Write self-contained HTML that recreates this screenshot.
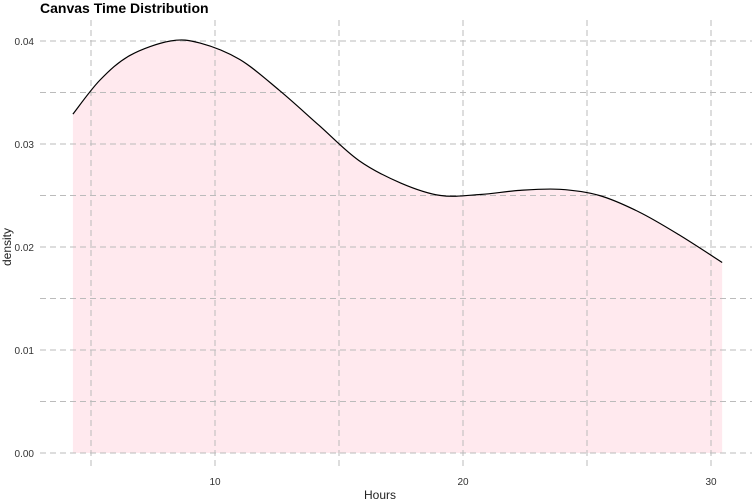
<!DOCTYPE html>
<html><head><meta charset="utf-8"><style>
body{margin:0;background:#fff;}
svg{display:block;font-family:"Liberation Sans",sans-serif;}
</style></head><body>
<svg id="chart" width="756" height="504">
<text x="40" y="13" font-size="14" font-weight="bold" fill="#000">Canvas Time Distribution</text>
<path id="area" fill="#ffe9ee"></path>
<g id="grid"></g>
<path id="line" fill="none" stroke="#000" stroke-width="1.2"></path>
<g id="ticks"></g>
<text x="380" y="499" font-size="12" text-anchor="middle" fill="#222">Hours</text>
<text transform="translate(11,247) rotate(-90)" font-size="12" text-anchor="middle" fill="#222">density</text>
</svg>
<script>
const hours=[4.27,5.36,6.57,8.2,9.4,11.0,12.6,14.2,15.8,17.5,19.1,20.7,22.3,23.9,25.5,27.1,28.7,30.45];
const density=[0.0329,0.0362,0.0386,0.0400,0.0398,0.0382,0.0352,0.0318,0.0284,0.0262,0.0250,0.0251,0.0255,0.0256,0.0250,0.0234,0.0212,0.0185];
const xTicks=[10,20,30];
const xMinor=[5,15,25];
const yTicks=[0,0.01,0.02,0.03,0.04];
const yTickLabels=["0.00","0.01","0.02","0.03","0.04"];
const yMinor=[0.005,0.015,0.025,0.035];
const X=v=>-33+v*24.8;
const Y=v=>453-v*10300;
const ns="http://www.w3.org/2000/svg";
const grid=document.getElementById('grid'),ticks=document.getElementById('ticks');
function line(x1,y1,x2,y2,name){const l=document.createElementNS(ns,'line');
l.setAttribute('x1',x1);l.setAttribute('y1',y1);l.setAttribute('x2',x2);l.setAttribute('y2',y2);
l.setAttribute('stroke','#bbb');l.setAttribute('stroke-dasharray','6,4');l.setAttribute('stroke-width','1');


grid.appendChild(l);}
function text(x,y,s,anchor,name){const t=document.createElementNS(ns,'text');
t.setAttribute('x',x);t.setAttribute('y',y);t.setAttribute('font-size','10');t.setAttribute('fill','#333');t.setAttribute('text-anchor',anchor);t.textContent=s;


ticks.appendChild(t);}
xMinor.forEach(v=>line(X(v),20,X(v),470,'x-minor-gridline'));
yMinor.forEach(v=>line(40,Y(v),752,Y(v),'y-minor-gridline'));
xTicks.forEach(v=>{line(X(v),20,X(v),470,'x-gridline');text(X(v),485,String(v),'middle','x-tick-label');});
yTicks.forEach((v,i)=>{line(40,Y(v),752,Y(v),'y-gridline');text(34,Y(v)+4,yTickLabels[i],'end','y-tick-label');});
const P=hours.map((h,i)=>[X(h),Y(density[i])]);
let d='M'+P[0][0]+','+P[0][1];
for(let i=0;i<P.length-1;i++){const p0=P[Math.max(0,i-1)],p1=P[i],p2=P[i+1],p3=P[Math.min(P.length-1,i+2)];
d+=' C'+(p1[0]+(p2[0]-p0[0])/6)+','+(p1[1]+(p2[1]-p0[1])/6)+' '+(p2[0]-(p3[0]-p1[0])/6)+','+(p2[1]-(p3[1]-p1[1])/6)+' '+p2[0]+','+p2[1];}
document.getElementById('line').setAttribute('d',d);
const last=P[P.length-1];
document.getElementById('area').setAttribute('d',d+' L'+last[0]+','+Y(0)+' L'+P[0][0]+','+Y(0)+' Z');
</script>
</body></html>
